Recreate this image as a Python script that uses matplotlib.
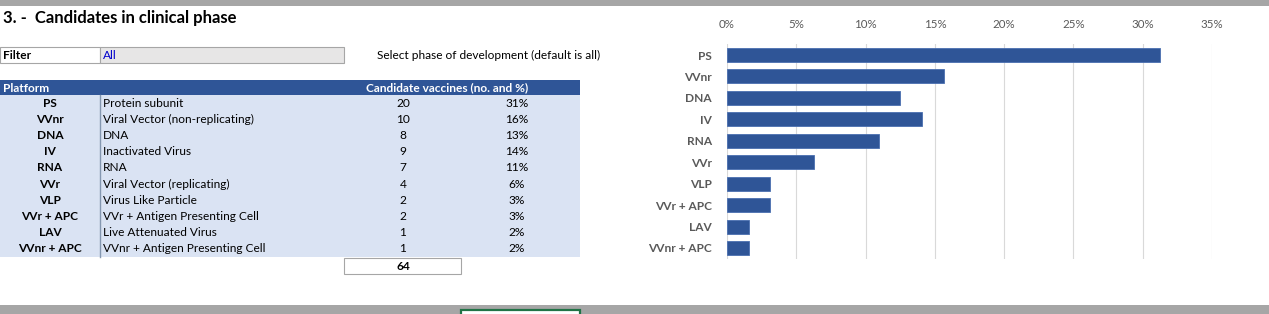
import matplotlib.pyplot as plt
from matplotlib.patches import Rectangle
from matplotlib.ticker import PercentFormatter

plt.rcParams['font.family'] = ['Lato', 'DejaVu Sans']

codes = ['PS', 'VVnr', 'DNA', 'IV', 'RNA', 'VVr', 'VLP', 'VVr + APC', 'LAV', 'VVnr + APC']
names = ['Protein subunit', 'Viral Vector (non-replicating)', 'DNA', 'Inactivated Virus', 'RNA',
         'Viral Vector (replicating)', 'Virus Like Particle', 'VVr + Antigen Presenting Cell',
         'Live Attenuated Virus', 'VVnr + Antigen Presenting Cell']
counts = [20, 10, 8, 9, 7, 4, 2, 2, 1, 1]
total = sum(counts)
shares = [c / total for c in counts]

blue = '#2f5597'
light = '#dae3f3'
grey_txt = '#595959'

W, H = 1269, 314
fig = plt.figure(figsize=(W / 100, H / 100), dpi=100)

# full-figure overlay in pixel coords for the spreadsheet part
bg = fig.add_axes([0, 0, 1, 1])
bg.set_xlim(0, W)
bg.set_ylim(H, 0)
bg.axis('off')

# top / bottom grey bands
bg.add_patch(Rectangle((0, 0), W, 6, color='#a6a6a6', lw=0))
bg.add_patch(Rectangle((0, 305), W, 9, color='#a6a6a6', lw=0))
bg.add_patch(Rectangle((461, 309.5), 119, 6, facecolor='white', edgecolor='#217346', lw=1.6))

bg.text(3, 18, '3. -  Candidates in clinical phase', fontsize=12, fontweight='bold', va='center')

# filter row
bg.add_patch(Rectangle((0, 47), 100, 16, facecolor='white', edgecolor='#a6a6a6', lw=0.8))
bg.add_patch(Rectangle((100, 47), 244, 16, facecolor='#e7e6e6', edgecolor='#a6a6a6', lw=0.8))
bg.text(3, 55.5, 'Filter', fontsize=8.6, fontweight='bold', va='center')
bg.text(103, 55.5, 'All', fontsize=8.6, color='#0000cc', va='center')
bg.text(377, 55.5, 'Select phase of development (default is all)', fontsize=8.6, va='center')

# header
bg.add_patch(Rectangle((0, 80), 580, 15, color=blue, lw=0))
bg.text(3, 88, 'Platform', fontsize=8.6, fontweight='bold', color='white', va='center')
bg.text(447, 88, 'Candidate vaccines (no. and %)', fontsize=8.6, fontweight='bold',
        color='white', va='center', ha='center')

# data rows
row_h = 16.2
top = 95
bg.add_patch(Rectangle((0, top), 580, row_h * len(codes), color=light, lw=0))
bg.plot([100, 100], [top, top + row_h * len(codes)], color='#8497b0', lw=1)
for i, (c, n, v, s) in enumerate(zip(codes, names, counts, shares)):
    y = top + row_h * (i + 0.5)
    pct = int(s * 100 + 0.5)  # excel style half-up
    bg.text(50, y, c, fontsize=8.6, fontweight='bold', ha='center', va='center')
    bg.text(103, y, n, fontsize=8.6, ha='left', va='center')
    bg.text(403, y, str(v), fontsize=8.6, ha='center', va='center')
    bg.text(517, y, f'{pct}%', fontsize=8.6, ha='center', va='center')

# total
ty = top + row_h * len(codes)
bg.add_patch(Rectangle((344, ty + 1), 117, 16, facecolor='white', edgecolor='#a6a6a6', lw=0.8))
bg.text(403, ty + 9, str(total), fontsize=8.6, fontweight='bold', ha='center', va='center')

# bar chart
ax = fig.add_axes([727 / W, (H - 258.7) / H, (1212 - 727) / W, (258.7 - 44.3) / H])
ax.barh(range(len(codes)), shares, height=0.65, color=blue, edgecolor='#4a6fb0', lw=0.6, zorder=3)
ax.set_xlim(0, 0.35)
ax.set_ylim(len(codes) - 0.5, -0.5)
ax.set_xticks([0, 0.05, 0.10, 0.15, 0.20, 0.25, 0.30, 0.35])
ax.xaxis.set_major_formatter(PercentFormatter(1.0, decimals=0))
ax.xaxis.tick_top()
ax.set_yticks(range(len(codes)))
ax.set_yticklabels(codes, fontweight='bold')
ax.tick_params(axis='x', length=0, labelsize=8.3, labelcolor=grey_txt, pad=10)
ax.tick_params(axis='y', length=0, labelsize=8.6, labelcolor=grey_txt, pad=11)
ax.grid(axis='x', color='#d9d9d9', lw=0.8, zorder=0)
for sp in ax.spines.values():
    sp.set_visible(False)
ax.set_facecolor('none')

fig.savefig('out.png', dpi=100)
